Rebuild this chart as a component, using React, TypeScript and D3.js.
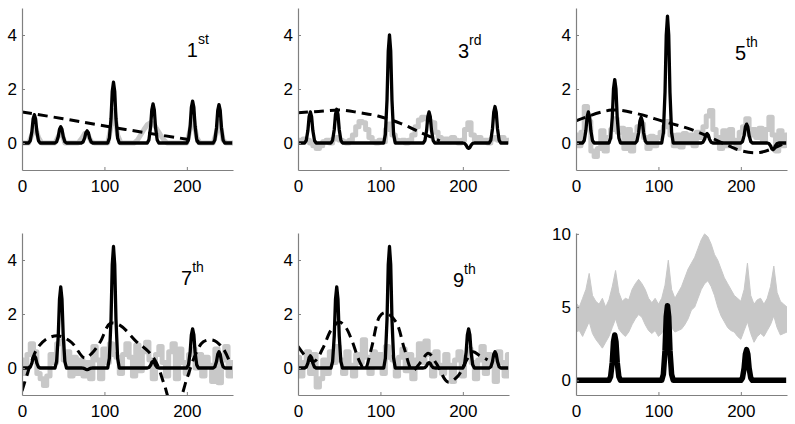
import React, { useEffect, useRef } from 'react';
import * as d3 from 'd3';

// x positions of the sampled gray traces (every 4 bins, 0..256)
const sampleX = d3.range(0, 257, 4);

const xTicks = [0, 100, 200];
const yTicksMain = [0, 2, 4];
const yTicksLast = [0, 5, 10];

const peakX = [15, 47, 79, 111, 159, 207, 239];

// peak heights of the black (reconstructed) trace, one per peakX
const peaks1st = [1.05, 0.6, 0.45, 2.25, 1.45, 1.55, 1.42];
const peaks3rd = [1.15, 1.25, 0, 4.0, 1.15, -0.2, 1.35];
const peaks5th = [1.15, 2.35, 0.95, 4.7, 0.35, 0.7, -0.25];
const peaks7th = [0.45, 3.0, -0.06, 4.5, 0.25, 1.45, 0.6];
const peaks9th = [0.45, 3.0, 0, 4.5, 0.2, 1.45, 0.6];
const peaksTrue = [0, 3.1, 0, 5.1, 0, 2.1, 0];

// dashed fit, [x, y]
const dashed1st = [[0, 1.15], [50, 0.9], [95, 0.66], [150, 0.38], [200, 0.14], [215, 0.06]];
const dashed3rd = [[0, 1.12], [25, 1.17], [53, 1.22], [75, 1.12], [97, 1.0], [125, 0.72], [150, 0.37], [172, 0.08]];
const dashed5th = [[0, 0.82], [43, 1.22], [75, 1.08], [106, 0.8], [135, 0.55], [162, 0.22], [185, -0.1], [202, -0.3], [223, -0.35], [243, -0.15], [250, -0.05]];
const dashed7th = [[0, -0.85], [10, 0.1], [18, 0.7], [30, 1.08], [44, 1.19], [60, 0.95], [76, 0.37], [85, 0.55], [95, 0.97], [107, 1.65], [119, 1.58], [139, 0.97], [153, 0.62], [163, 0.2], [173, -0.65], [180, -1.2], [190, -1.2], [200, -0.4], [210, 0.47], [220, 0.97], [232, 1.03], [244, 0.72], [252, 0.22]];
const dashed9th = [[0, 0.8], [12, 0.35], [20, 0.25], [30, 0.72], [40, 1.4], [50, 1.7], [58, 1.5], [65, 1.05], [75, 0.22], [81, -0.05], [89, 0.72], [99, 1.9], [106, 2.05], [119, 1.7], [129, 0.72], [139, -0.09], [149, 0.22], [158, 0.55], [168, 0.16], [182, -0.52], [194, -0.3], [203, 0.2], [212, 0.6], [220, 0.47], [230, 0.3]];

// gray (noisy input) traces sampled at sampleX
const gray1st = [0, 0, 0, 0.3, 0.6, 0.2, 0, 0, 0, 0, 0, 0.25, 0.4, 0, 0, 0, 0, 0, 0.15, 0.35, 0.3, 0.05, 0, 0, 0, 0, 0, 0.6, 1.2, 0.3, 0, 0, 0, 0, 0, 0.1, 0.3, 0.5, 0.68, 0.75, 0.7, 0.5, 0.3, 0.12, 0, 0, 0, 0, 0, 0, 0, 0.5, 0.9, 0.2, 0, 0, 0, 0, 0, 0.4, 0.8, 0.1, 0, 0, 0];
const gray3rd = [0.1, 0.05, 0.15, 0.1, 0, -0.1, -0.2, -0.1, 0.05, 0.1, 0, 0.15, 0.2, 0.1, 0.05, 0, 0.1, 0.3, 0.6, 0.8, 0.75, 0.5, 0.2, 0.05, 0, 0.1, 0.05, 0.5, 0.7, 0.3, 0.1, 0.05, 0.1, 0, 0.1, 0.3, 0.6, 0.85, 0.95, 0.9, 0.8, 0.75, 0.4, 0.2, 0.1, 0.15, 0.05, 0.2, 0.1, 0, 0.1, 0.5, 0.75, 0.3, 0.1, 0.2, 0.05, 0.1, 0, 0.15, 0.2, 0.1, 0.2, 0.05, 0.1];
const gray5th = [0.3, -0.1, 0.4, 1.35, 0.8, -0.3, -0.5, -0.2, 0.45, -0.3, 0.2, 0.5, 0.9, 0.4, 0.55, -0.2, 0.5, -0.3, 0.3, 0.6, 0.7, 0.2, -0.2, 0.25, -0.1, 0.2, 0.4, 0.6, 0.8, 0.3, -0.1, 0.3, -0.15, 0.35, 0, 0.3, -0.1, 0.4, 0.2, 0.6, 1.0, 1.2, 0.5, 0.2, -0.2, 0.45, -0.1, 0.5, 0.1, -0.2, 0.4, 0.6, 0.9, 0.3, 0.5, 0.2, 0.55, 0.1, 0.5, 0.95, 0.3, -0.3, 0.45, -0.1, 0.3];
const gray7th = [0.3, -0.2, 0.5, 0.9, 0.6, -0.2, -0.4, -0.65, -0.3, 0.5, 0.2, 0.9, 1.0, 0.3, 0.6, -0.3, 0.4, -0.2, 0.3, -0.3, 0.2, -0.4, 0.8, 0.3, -0.4, 0.7, 0.2, 0.9, 0.5, 0.4, -0.2, 0.5, 0.9, 0.4, -0.3, 0.85, -0.1, 0.6, 0.95, 0.3, -0.4, 0.5, 0.8, 0.2, -0.3, 0.6, 0.9, -0.4, 0.7, 0.2, -0.2, 0.5, 0.7, 0, 0.5, -0.3, 0.4, 0.1, -0.5, 0.7, -0.55, 0.3, 0.8, -0.3, 0.2];
const gray9th = [0.4, -0.3, 0.2, 0.6, -0.2, 0.5, -0.7, -0.4, 0.3, -0.2, 0.6, 0.2, 0.8, 0.3, -0.2, 0.6, 0.1, -0.3, 0.5, 0.2, 1.05, 0.4, -0.2, 0.6, 0.1, 0.5, -0.2, 0.8, 0.4, 0.3, -0.3, 0.4, 0.7, -0.1, 0.5, -0.4, 0.3, 0.9, 0.2, 1.0, 0.5, -0.3, 0.6, 0.1, -0.2, 0.5, 0.1, -0.5, 0.3, 0.6, -0.3, 0.4, 0.7, 0.2, -0.4, 0.3, 0.8, -0.2, 0.5, 0.2, -0.5, 0.6, 0.2, -0.3, 0.5];

// envelope of the many noisy inputs in the last panel
const bandUpper = [5.3, 5.0, 5.6, 6.2, 7.3, 5.8, 5.4, 5.2, 5.6, 5.0, 5.5, 6.4, 7.5, 6.0, 5.4, 5.6, 5.5, 6.2, 6.6, 6.9, 6.6, 6.2, 5.6, 5.3, 5.6, 5.2, 5.6, 6.5, 8.2, 6.2, 5.6, 6.0, 6.4, 7.0, 7.6, 8.0, 8.4, 9.0, 9.6, 10.0, 9.8, 9.3, 8.6, 8.2, 7.6, 7.0, 6.6, 6.2, 5.8, 5.6, 5.4, 6.2, 8.0, 5.8, 5.2, 5.5, 5.6, 5.2, 5.6, 6.4, 7.8, 6.0, 5.4, 5.2, 5.0];
const bandLower = [3.3, 3.4, 3.0, 3.5, 4.0, 3.2, 2.8, 2.5, 2.2, 2.6, 3.0, 3.6, 4.2, 3.5, 3.2, 3.0, 3.3, 3.8, 4.2, 4.5, 4.3, 3.8, 3.4, 3.2, 3.4, 3.0, 3.2, 3.8, 4.5, 3.6, 3.3, 3.4, 3.5, 3.8, 4.2, 4.8, 5.0, 5.6, 6.2, 6.6, 6.8, 6.4, 5.8, 5.0, 4.4, 4.0, 3.6, 3.4, 3.3, 3.0, 2.8, 3.4, 4.0, 3.2, 2.6, 3.0, 3.2, 3.0, 3.4, 3.8, 4.4, 3.6, 3.1, 3.2, 3.3];

// relative shape of one peak: [dx, fraction of height]
const peakShape = [[-7, 0], [-5, 0.08], [-3, 0.4], [-1.5, 0.85], [0, 1], [1.5, 0.85], [3, 0.4], [5, 0.08], [7, 0]];

const PW = 211;
const PH = 162;
const FONT = '"Liberation Sans", Arial, sans-serif';
const GRAY = '#c8c8c8';

const panels = [
  { left: 22, top: 8, yDomain: [-1, 5], yTicks: yTicksMain, peaks: peaks1st, dashed: dashed1st, gray: gray1st, step: false, title: ['1', 'st'], tx: 200, ty: 3.2 },
  { left: 298, top: 8, yDomain: [-1, 5], yTicks: yTicksMain, peaks: peaks3rd, dashed: dashed3rd, gray: gray3rd, step: true, title: ['3', 'rd'], tx: 194, ty: 3.13 },
  { left: 576, top: 8, yDomain: [-1, 5], yTicks: yTicksMain, peaks: peaks5th, dashed: dashed5th, gray: gray5th, step: true, title: ['5', 'th'], tx: 193, ty: 3.06 },
  { left: 22, top: 233, yDomain: [-1, 5], yTicks: yTicksMain, peaks: peaks7th, dashed: dashed7th, gray: gray7th, step: true, title: ['7', 'th'], tx: 193, ty: 3.06 },
  { left: 298, top: 233, yDomain: [-1, 5], yTicks: yTicksMain, peaks: peaks9th, dashed: dashed9th, gray: gray9th, step: true, title: ['9', 'th'], tx: 188, ty: 3.0 },
  { left: 576, top: 233, yDomain: [-1, 10.06], yTicks: yTicksLast, peaks: peaksTrue, dashed: null, gray: null, step: false, title: null, tx: 0, ty: 0 },
];

function peakLine(heights: number[]) {
  const pts: [number, number][] = [[0, 0]];
  heights.forEach((h, i) => {
    if (h === 0) return;
    peakShape.forEach(([dx, f]) => pts.push([peakX[i] + dx, h * f]));
  });
  pts.push([255, 0]);
  return pts;
}

const App = () => {
  const svgRef = useRef<SVGSVGElement>(null);

  useEffect(() => {
    const svg = d3.select(svgRef.current);
    svg.selectAll('*').remove();

    panels.forEach((p, i) => {
      const x = d3.scaleLinear().domain([0, 256]).range([0, PW]);
      const y = d3.scaleLinear().domain(p.yDomain).range([PH, 0]);
      const last = p.gray === null;

      const g = svg.append('g').attr('transform', `translate(${p.left},${p.top})`);
      g.append('clipPath').attr('id', `clip${i}`)
        .append('rect').attr('x', 0).attr('y', 0).attr('width', PW).attr('height', PH);
      const plot = g.append('g').attr('clip-path', `url(#clip${i})`);

      // gray input
      if (p.gray) {
        const line = d3.line<number>()
          .x((_, j) => x(sampleX[j]))
          .y(d => y(d))
          .curve(p.step ? d3.curveStep : d3.curveLinear);
        plot.append('path')
          .attr('d', line(p.gray))
          .attr('fill', 'none')
          .attr('stroke', GRAY)
          .attr('stroke-width', 5)
          .attr('stroke-linejoin', 'round');
      } else {
        const area = d3.area<number>()
          .x((_, j) => x(sampleX[j]))
          .y0((_, j) => y(bandLower[j]))
          .y1(d => y(d));
        plot.append('path')
          .attr('d', area(bandUpper))
          .attr('fill', GRAY)
          .attr('stroke', GRAY)
          .attr('stroke-width', 1);
      }

      // dashed fit
      if (p.dashed) {
        const dline = d3.line<number[]>().x(d => x(d[0])).y(d => y(d[1])).curve(d3.curveCatmullRom);
        plot.append('path')
          .attr('d', dline(p.dashed))
          .attr('fill', 'none')
          .attr('stroke', '#000')
          .attr('stroke-width', 3)
          .attr('stroke-dasharray', '10,6');
      }

      // black reconstruction
      const bline = d3.line<[number, number]>().x(d => x(d[0])).y(d => y(d[1]));
      plot.append('path')
        .attr('d', bline(peakLine(p.peaks)))
        .attr('fill', 'none')
        .attr('stroke', '#000')
        .attr('stroke-width', last ? 5.5 : 3.3)
        .attr('stroke-linejoin', 'round');

      // axes
      const fmt = d3.format('d');
      const xAxis = g.append('g')
        .attr('transform', `translate(0,${PH})`)
        .call(d3.axisBottom(x).tickValues(xTicks).tickFormat(fmt).tickSizeInner(-3).tickSizeOuter(0).tickPadding(10));
      const yAxis = g.append('g')
        .call(d3.axisLeft(y).tickValues(p.yTicks).tickFormat(fmt).tickSizeInner(-3).tickSizeOuter(0).tickPadding(5));
      [xAxis, yAxis].forEach(a => {
        a.select('.domain').attr('stroke', '#808080').attr('stroke-width', 1.2);
        a.selectAll('.tick line').attr('stroke', '#808080');
        a.selectAll('.tick text')
          .attr('fill', '#000')
          .style('font-family', FONT)
          .style('font-size', '17px');
      });

      // order label
      if (p.title) {
        const t = g.append('text')
          .attr('x', x(p.tx))
          .attr('y', y(p.ty))
          .style('font-family', FONT)
          .style('font-size', '20px')
          .attr('fill', '#000');
        t.append('tspan').text(p.title[0]);
        t.append('tspan')
          .attr('dy', -13)
          .style('font-size', '14px')
          .text(p.title[1]);
      }
    });
  }, []);

  return (
    <svg
      ref={svgRef}
      width={795}
      height={424}
      style={{ position: 'absolute', left: 0, top: 0, background: '#fff' }}
    />
  );
};

export default App;
